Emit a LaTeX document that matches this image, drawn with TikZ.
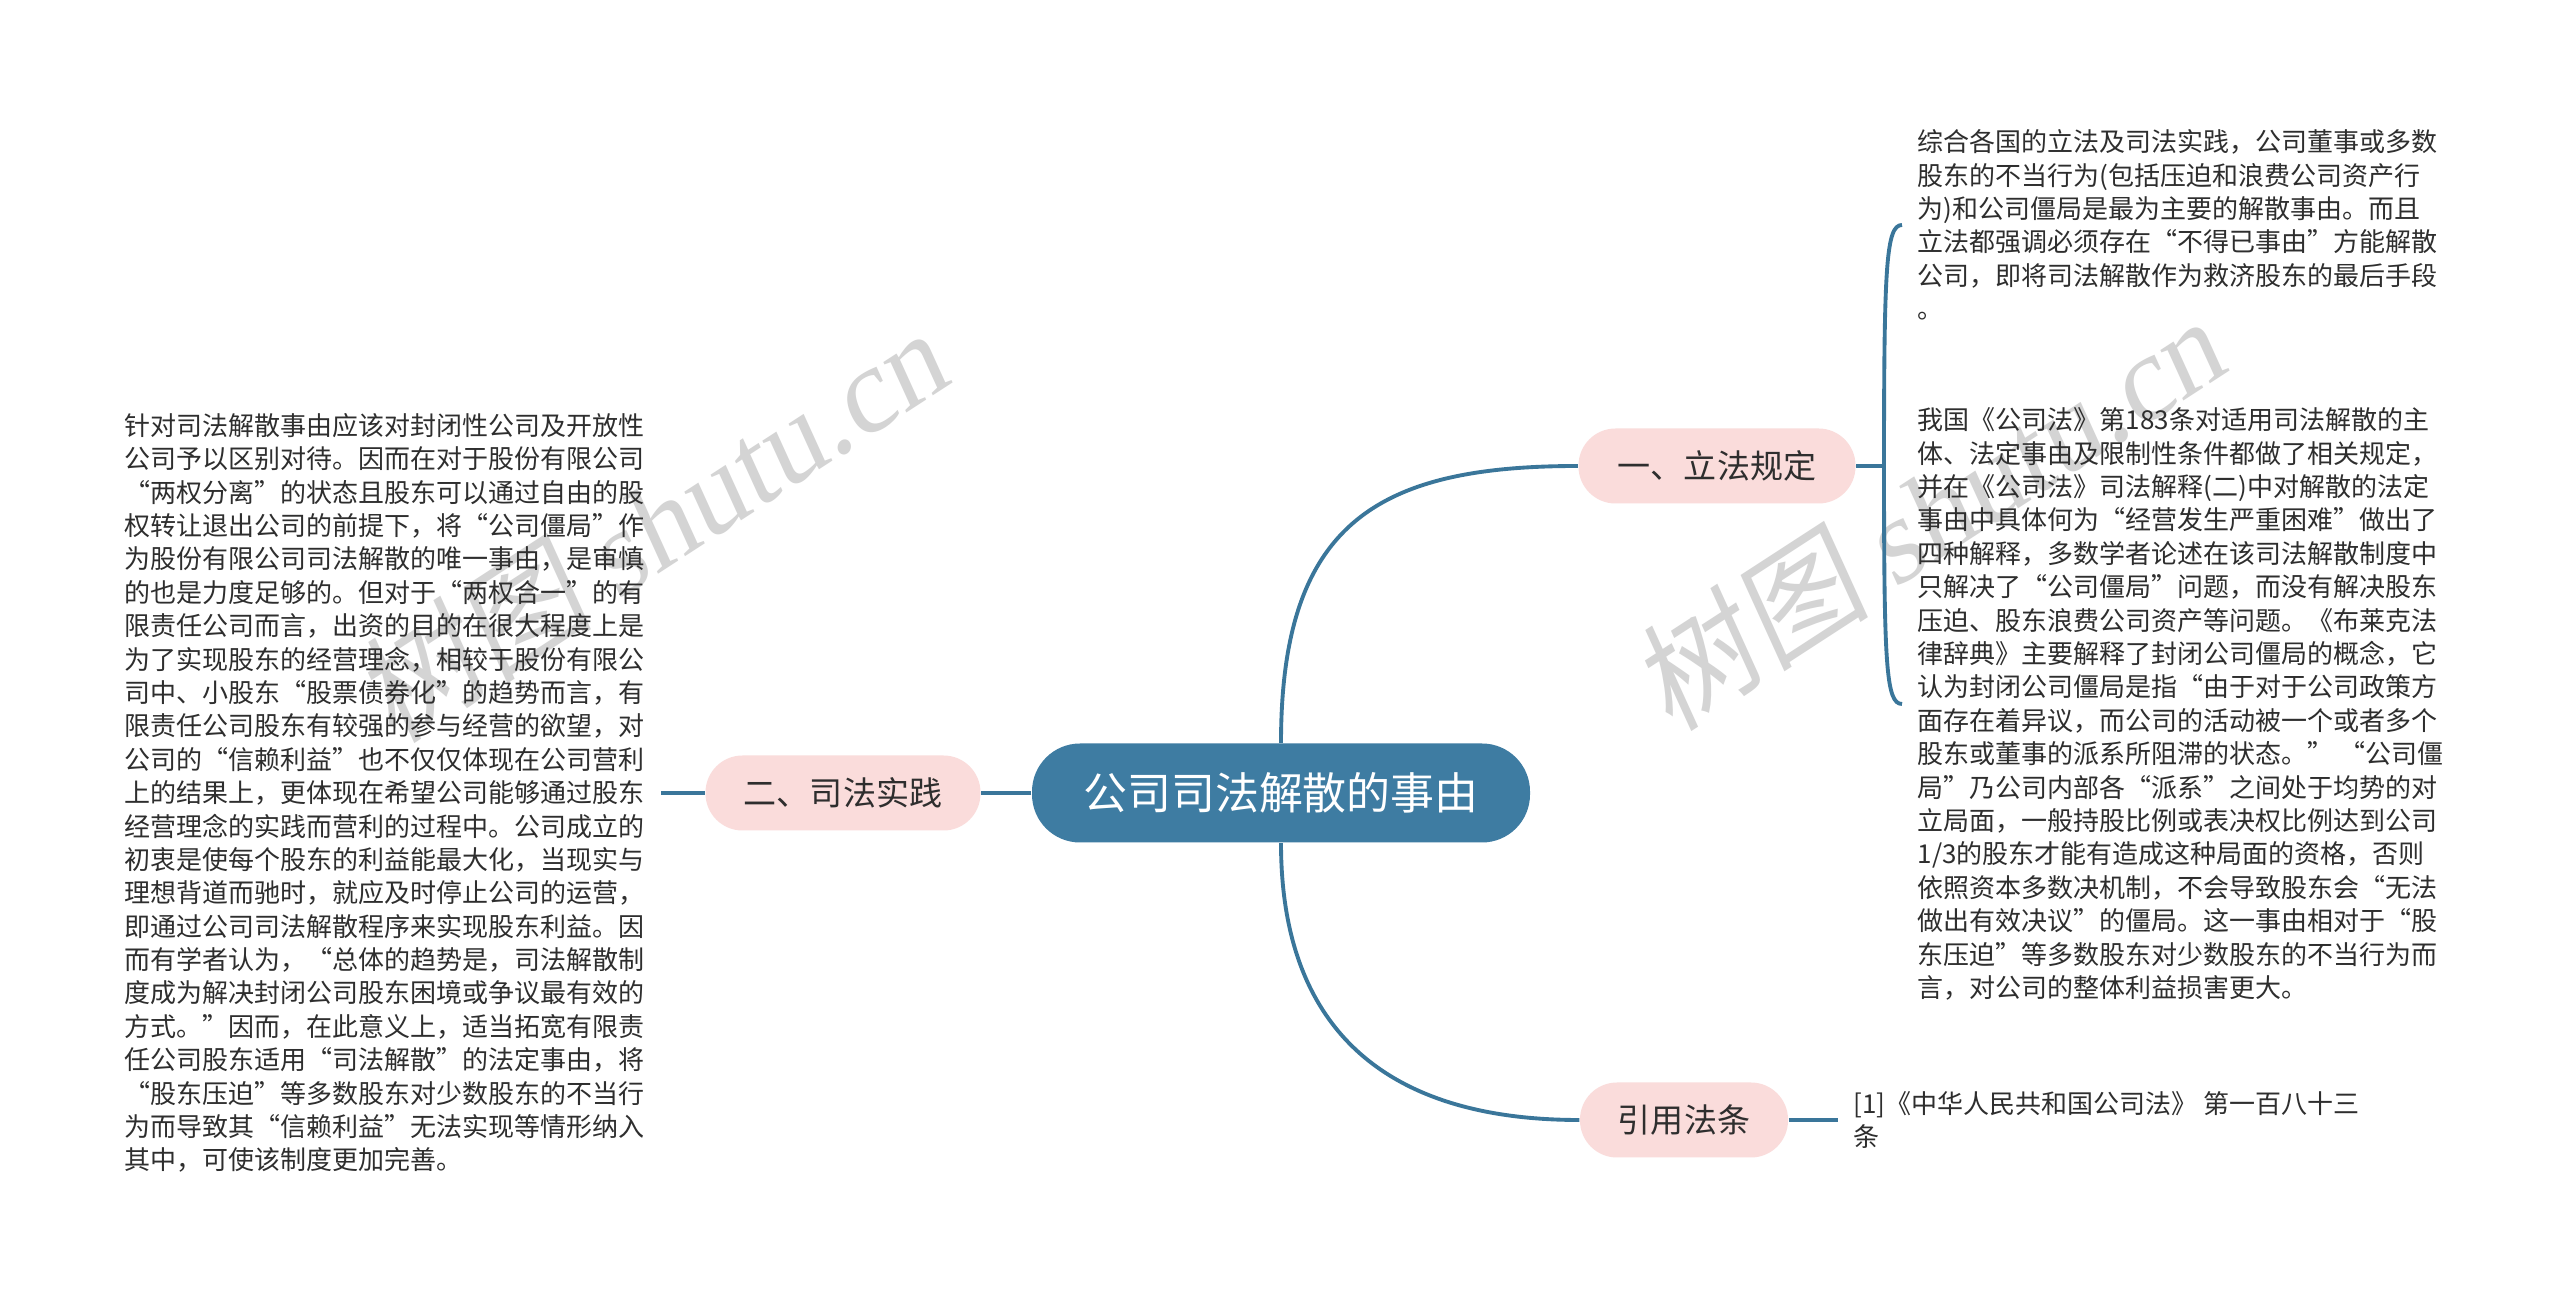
\documentclass[tikz,border=0pt]{standalone}
\usepackage{fontspec}
\setmainfont{Noto Sans CJK SC}
\newfontfamily\wmserif[FakeSlant=0.15]{Liberation Serif}
\newfontfamily\wmcjk[FakeSlant=0.15]{Noto Sans CJK SC}
\usepackage{tikz}
\definecolor{rootblue}{HTML}{3E7CA2}
\definecolor{linkblue}{HTML}{3A769A}
\definecolor{topicpink}{HTML}{FADCDB}
\definecolor{txtgray}{HTML}{2E2E2E}

\begin{document}
\begin{tikzpicture}[
    root/.style={rectangle, rounded corners=0.48cm, fill=rootblue, text=white, minimum width=4.98cm, minimum height=0.99cm, font=\fontsize{12.5}{15}\selectfont},
    topic/.style={rectangle, rounded corners=0.37cm, fill=topicpink, text=txtgray, minimum height=0.75cm, font=\fontsize{9.4}{11}\selectfont},
    note/.style={align=left, inner xsep=0.15cm, inner ysep=0pt, text=txtgray, font=\fontsize{7.4}{9.5}\selectfont},
    link/.style={draw=linkblue, line width=1.1pt},
    wmark/.style={text=black!17, rotate=33, font=\fontsize{34}{34}\selectfont}]

    % Page size and background
    \fill[white] (0,0) rectangle (25.6,12.99);
    \useasboundingbox (0,0) rectangle (25.6,12.99);

    % Watermarks
    \node[wmark] (wm1) at (6.50,7.73) {{\wmcjk 树图} {\wmserif shutu.cn}};
    \node[wmark] (wm2) at (19.27,7.85) {{\wmcjk 树图} {\wmserif shutu.cn}};

    % Root and topics
    \node[root] (c) at (12.81,5.06) {公司司法解散的事由};
    \node[topic, minimum width=2.77cm] (lifa) at (17.17,8.33) {一、立法规定};
    \node[topic, minimum width=2.75cm] (sifa) at (8.43,5.06) {二、司法实践};
    \node[topic, minimum width=2.08cm] (yinyong) at (16.84,1.79) {引用法条};

    % Notes
    \node[note, anchor=west] (n1) at (19.02,10.74) {综合各国的立法及司法实践，公司董事或多数\\
股东的不当行为(包括压迫和浪费公司资产行\\
为)和公司僵局是最为主要的解散事由。而且\\
立法都强调必须存在“不得已事由”方能解散\\
公司，即将司法解散作为救济股东的最后手段\\
。};
    \node[note, anchor=west] (n2) at (19.02,5.95) {我国《公司法》第183条对适用司法解散的主\\
体、法定事由及限制性条件都做了相关规定，\\
并在《公司法》司法解释(二)中对解散的法定\\
事由中具体何为“经营发生严重困难”做出了\\
四种解释，多数学者论述在该司法解散制度中\\
只解决了“公司僵局”问题，而没有解决股东\\
压迫、股东浪费公司资产等问题。《布莱克法\\
律辞典》主要解释了封闭公司僵局的概念，它\\
认为封闭公司僵局是指“由于对于公司政策方\\
面存在着异议，而公司的活动被一个或者多个\\
股东或董事的派系所阻滞的状态。” “公司僵\\
局”乃公司内部各“派系”之间处于均势的对\\
立局面，一般持股比例或表决权比例达到公司\\
1/3的股东才能有造成这种局面的资格，否则\\
依照资本多数决机制，不会导致股东会“无法\\
做出有效决议”的僵局。这一事由相对于“股\\
东压迫”等多数股东对少数股东的不当行为而\\
言，对公司的整体利益损害更大。};
    \node[note, anchor=west] (n3) at (1.09,5.06) {针对司法解散事由应该对封闭性公司及开放性\\
公司予以区别对待。因而在对于股份有限公司\\
“两权分离”的状态且股东可以通过自由的股\\
权转让退出公司的前提下，将“公司僵局”作\\
为股份有限公司司法解散的唯一事由，是审慎\\
的也是力度足够的。但对于“两权合一”的有\\
限责任公司而言，出资的目的在很大程度上是\\
为了实现股东的经营理念，相较于股份有限公\\
司中、小股东“股票债券化”的趋势而言，有\\
限责任公司股东有较强的参与经营的欲望，对\\
公司的“信赖利益”也不仅仅体现在公司营利\\
上的结果上，更体现在希望公司能够通过股东\\
经营理念的实践而营利的过程中。公司成立的\\
初衷是使每个股东的利益能最大化，当现实与\\
理想背道而驰时，就应及时停止公司的运营，\\
即通过公司司法解散程序来实现股东利益。因\\
而有学者认为，“总体的趋势是，司法解散制\\
度成为解决封闭公司股东困境或争议最有效的\\
方式。”因而，在此意义上，适当拓宽有限责\\
任公司股东适用“司法解散”的法定事由，将\\
“股东压迫”等多数股东对少数股东的不当行\\
为而导致其“信赖利益”无法实现等情形纳入\\
其中，可使该制度更加完善。};
    \node[note, anchor=west] (n4) at (18.38,1.79) {[1]《中华人民共和国公司法》 第一百八十三\\
条};

    \coordinate (fork) at (18.84,8.33);

    % Connect root, topics and notes
    \draw[link] (c.north) .. controls +(0,2.2) and +(-2.0,0) .. (lifa.west);
    \draw[link] (c.south) .. controls +(0,-1.8) and +(-2.0,0) .. (yinyong.west);
    \draw[link] (c.west) -- (sifa.east);
    \draw[link] (sifa.west) -- (n3.east);
    \draw[link] (lifa.east) -- (fork);
    \draw[link] (fork) .. controls +(0,2.0) and +(-0.16,0) .. (n1.west);
    \draw[link] (fork) .. controls +(0,-2.0) and +(-0.16,0) .. (n2.west);
    \draw[link] (yinyong.east) -- (n4.west);
\end{tikzpicture}
\end{document}
